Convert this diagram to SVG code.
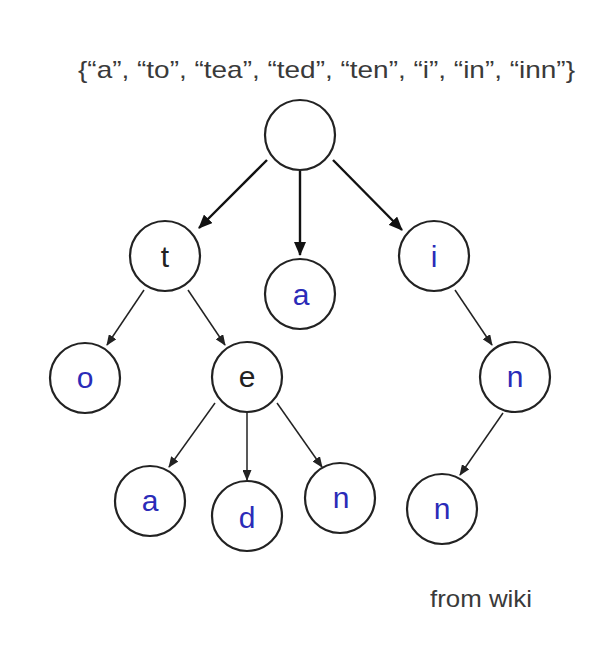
<svg xmlns="http://www.w3.org/2000/svg" width="608" height="648" viewBox="0 0 608 648">
<style>
.node circle{fill:#fff;stroke:#222;stroke-width:2.2}
.node text{font-family:"Liberation Sans",Arial,sans-serif;font-size:30px;text-anchor:middle;fill:#2b2bb8}
.node text.k{fill:#222}
.thick{stroke:#111;stroke-width:2.4;fill:none}
.thin{stroke:#222;stroke-width:1.5;fill:none}
.cap{font-family:"Liberation Sans",Arial,sans-serif;font-size:24px;fill:#3a3a3a}
</style>
<defs>
<marker id="ah" markerUnits="userSpaceOnUse" markerWidth="14" markerHeight="12" refX="13" refY="6" orient="auto"><path d="M0,0 L14,6 L0,12 Z" fill="#111"/></marker>
<marker id="as" markerUnits="userSpaceOnUse" markerWidth="11" markerHeight="9" refX="10" refY="4.5" orient="auto"><path d="M0,0 L11,4.5 L0,9 Z" fill="#222"/></marker>
</defs>
<text class="cap" x="78" y="78" textLength="497" lengthAdjust="spacingAndGlyphs">{“a”, “to”, “tea”, “ted”, “ten”, “i”, “in”, “inn”}</text>
<g id="connectors">
<line class="thick" x1="267" y1="160" x2="199" y2="228" marker-end="url(#ah)"/>
<line class="thick" x1="300" y1="171" x2="300" y2="255" marker-end="url(#ah)"/>
<line class="thick" x1="333" y1="160" x2="402" y2="230" marker-end="url(#ah)"/>
<line class="thin" x1="144" y1="290" x2="107" y2="345" marker-end="url(#as)"/>
<line class="thin" x1="188" y1="290" x2="225" y2="345" marker-end="url(#as)"/>
<line class="thin" x1="215" y1="403" x2="169" y2="467" marker-end="url(#as)"/>
<line class="thin" x1="247" y1="413" x2="247" y2="480" marker-end="url(#as)"/>
<line class="thin" x1="277" y1="403" x2="322" y2="467" marker-end="url(#as)"/>
<line class="thin" x1="455" y1="290" x2="492" y2="345" marker-end="url(#as)"/>
<line class="thin" x1="503" y1="413" x2="460" y2="475" marker-end="url(#as)"/>
</g>
<g id="root" class="node"><circle cx="300" cy="135" r="35"/></g>
<g id="t" class="node"><circle cx="165" cy="256" r="35"/><text class="k" x="165" y="267">t</text></g>
<g id="a1" class="node"><circle cx="300" cy="294" r="35"/><text x="301" y="305">a</text></g>
<g id="i" class="node"><circle cx="434" cy="256" r="35"/><text x="434" y="267">i</text></g>
<g id="o" class="node"><circle cx="85" cy="378" r="35"/><text x="85" y="388">o</text></g>
<g id="e" class="node"><circle cx="247" cy="377" r="35"/><text class="k" x="247" y="387">e</text></g>
<g id="n1" class="node"><circle cx="515" cy="377" r="35"/><text x="515" y="387">n</text></g>
<g id="a2" class="node"><circle cx="150" cy="501" r="35"/><text x="150" y="511">a</text></g>
<g id="d" class="node"><circle cx="247" cy="516" r="35"/><text x="247" y="528">d</text></g>
<g id="n2" class="node"><circle cx="340" cy="498" r="35"/><text x="341" y="508">n</text></g>
<g id="n3" class="node"><circle cx="442" cy="509" r="35"/><text x="442" y="519">n</text></g>
<text class="cap" x="430" y="607" textLength="102" lengthAdjust="spacingAndGlyphs">from wiki</text>
</svg>
